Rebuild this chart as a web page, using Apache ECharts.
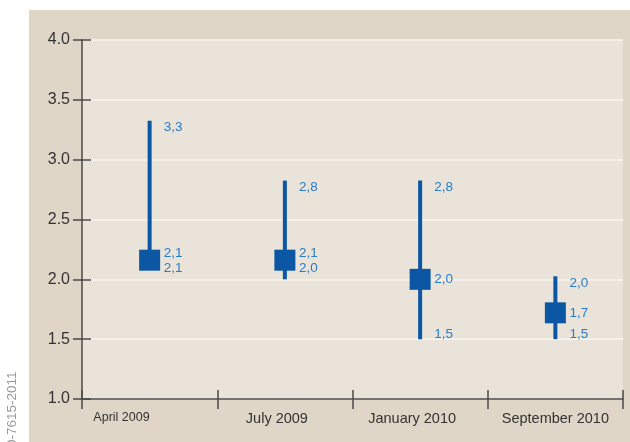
<!DOCTYPE html>
<html>
<head>
<meta charset="utf-8">
<script src="https://cdn.jsdelivr.net/npm/echarts@6/dist/echarts.min.js"></script>
<style>
html,body{margin:0;padding:0;background:#fff;}
#chart{width:630px;height:442px;}
</style>
</head>
<body>
<div id="chart"></div>
<script>
// ---- data ----
const categories = ['April 2009', 'July 2009', 'January 2010', 'September 2010'];
const lowValues  = [2.1, 2.0, 1.5, 1.5];
const midValues  = [2.16, 2.16, 2.0, 1.72];
const highValues = [3.3, 2.8, 2.8, 2.0];
const lowLabels  = ['2,1', '2,0', '1,5', '1,5'];
const midLabels  = ['2,1', '2,1', '2,0', '1,7'];
const highLabels = ['3,3', '2,8', '2,8', '2,0'];
const yTicks = [1.0, 1.5, 2.0, 2.5, 3.0, 3.5, 4.0];

const LINE = '#0b57a4';
const LBL = '#2a7cc6';
const FONT = '"Liberation Sans", Arial, sans-serif';

const seriesData = categories.map((c, i) => [i, lowValues[i], midValues[i], highValues[i]]);

const chart = echarts.init(document.getElementById('chart'));

function renderItem(params, api) {
  const i = api.value(0);
  const x = api.coord([i, api.value(2)])[0];
  const yLow = api.coord([i, api.value(1)])[1];
  const yMid = api.coord([i, api.value(2)])[1];
  const yHigh = api.coord([i, api.value(3)])[1];
  const idx = params.dataIndex;
  let midLY, lowLY;
  if (yLow - yMid < 25) { midLY = yMid - 7; lowLY = yMid + 8; }
  else { midLY = yMid; lowLY = yLow - 5; }
  const txt = (t, y) => ({
    type: 'text',
    style: { text: t, x: x + 14, y: y, fill: LBL, font: '13.5px ' + FONT, textAlign: 'left', textVerticalAlign: 'middle' }
  });
  return {
    type: 'group',
    children: [
      { type: 'rect', shape: { x: x - 2, y: yHigh - 3, width: 4, height: yLow - yHigh + 3 }, style: { fill: LINE } },
      { type: 'rect', shape: { x: x - 10.5, y: yMid - 10.5, width: 21, height: 21 }, style: { fill: LINE } },
      txt(highLabels[idx], yHigh + 4),
      txt(midLabels[idx], midLY),
      txt(lowLabels[idx], lowLY)
    ]
  };
}

const axisColor = '#4a4a4a';
const catData = categories.map((c, i) => {
  if (i === 0) return { value: c, textStyle: { fontSize: 12.5, align: 'right' } };
  if (i === 1 || i === 2) return { value: c, textStyle: { padding: [0, 16, 0, 0] } };
  return c;
});

chart.setOption({
  backgroundColor: '#ffffff',
  animation: false,
  graphic: [
    { type: 'rect', z: -100, shape: { x: 29, y: 10, width: 601, height: 432 }, style: { fill: '#e0d6c7' } },
    { type: 'text', z: -50, x: 12, y: 447, rotation: Math.PI / 2,
      style: { text: '0-7615-2011', x: 0, y: 0, fill: '#9a9a9a', font: '13.5px ' + FONT, textAlign: 'left', textVerticalAlign: 'middle' } }
  ],
  grid: {
    left: 82, right: 7, top: 40, bottom: 43,
    show: true, backgroundColor: '#e9e3d9', borderWidth: 0,
    outerBoundsMode: 'none'
  },
  xAxis: [
    {
      type: 'category', data: catData, position: 'bottom', boundaryGap: true,
      axisLine: { lineStyle: { color: axisColor, width: 1.5 } },
      axisTick: { show: true, interval: 0, length: 10, lineStyle: { color: axisColor, width: 1.5 } },
      axisLabel: { interval: 0, hideOverlap: false, margin: 12, fontSize: 14.5, color: '#333', fontFamily: FONT },
      splitLine: { show: false }
    },
    {
      type: 'category', data: categories, position: 'bottom', boundaryGap: true, offset: 0,
      axisLine: { show: false },
      axisTick: { show: true, interval: 0, inside: true, length: 9, lineStyle: { color: axisColor, width: 1.5 } },
      axisLabel: { show: false, interval: 0 },
      splitLine: { show: false }
    }
  ],
  yAxis: [
    {
      type: 'value', min: yTicks[0], max: yTicks[yTicks.length - 1], interval: 0.5, position: 'left',
      axisLine: { show: true, lineStyle: { color: axisColor, width: 1.5 } },
      axisTick: { show: true, length: 9, lineStyle: { color: axisColor, width: 1.5 } },
      axisLabel: { margin: 12, fontSize: 16, color: '#333', fontFamily: FONT, formatter: v => v.toFixed(1) },
      splitLine: { show: true, lineStyle: { color: '#f8f5ef', width: 1.5 } }
    },
    {
      type: 'value', min: yTicks[0], max: yTicks[yTicks.length - 1], interval: 0.5, position: 'left', offset: 0,
      axisLine: { show: false },
      axisTick: { show: true, inside: true, length: 9, lineStyle: { color: axisColor, width: 1.5 } },
      axisLabel: { show: false },
      splitLine: { show: false }
    }
  ],
  series: [{
    type: 'custom',
    xAxisIndex: 0, yAxisIndex: 0,
    renderItem: renderItem,
    data: seriesData,
    z: 5
  }]
});
</script>
</body>
</html>
